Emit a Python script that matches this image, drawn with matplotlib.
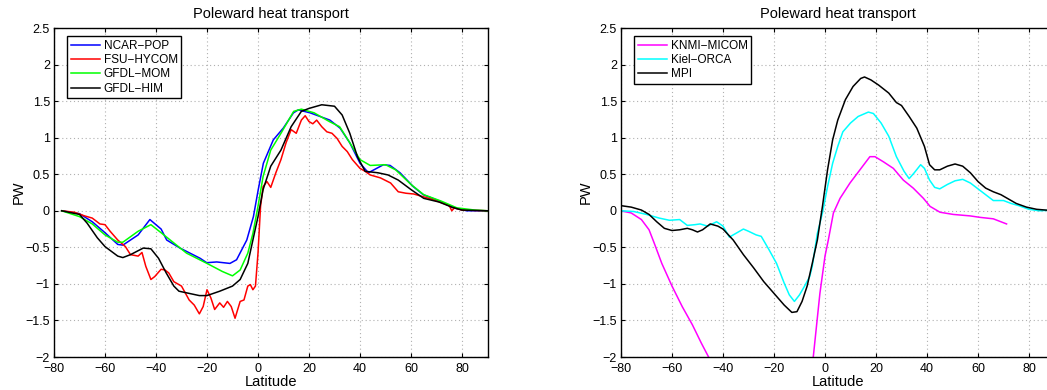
import numpy as np
import matplotlib
matplotlib.use("Agg")
import matplotlib.pyplot as plt

plt.rcParams['font.family'] = ['Liberation Sans', 'DejaVu Sans']
plt.rcParams['font.size'] = 8

# left panel data (latitude, PW)
pop_lat = [-77, -70, -65, -60, -55, -53, -47, -42.4, -38, -35.8, -30.6, -22.7, -20.1, -16.2, -11, -8.4, -4.4, -1.8,
           0.1, 2.1, 6, 9.9, 13.9, 15.8, 20.4, 28.2, 32.2, 36, 40, 43.3, 49.2, 51.8, 55.7, 60.9, 64.8, 71.4, 76.6,
           81.8, 90]
pop_pw = [0, -0.04, -0.15, -0.3, -0.46, -0.47, -0.33, -0.12, -0.25, -0.40, -0.51, -0.65, -0.71, -0.70, -0.72, -0.67,
          -0.40, -0.08, 0.29, 0.65, 0.97, 1.13, 1.34, 1.38, 1.34, 1.24, 1.13, 0.93, 0.65, 0.52, 0.63, 0.62, 0.52, 0.33,
          0.22, 0.13, 0.04, 0.0, 0.0]

hycom_lat = [-77, -72, -68, -65, -62, -60, -58, -55, -52, -50, -47, -45.5, -44, -42, -40.5, -38, -36.5, -35, -33,
             -30, -27, -25, -23, -21.5, -20, -18.5, -17, -15, -13.5, -12, -10.5, -9, -7, -5.5, -4, -3, -2, -1, 0,
             1, 2, 3.5, 5, 7, 9, 11, 13, 15, 17, 18.5, 20, 21.5, 23, 25, 27, 29, 31, 33, 35, 37, 40, 42, 44, 48, 52,
             55, 58, 61, 64, 68, 72, 75, 76, 77, 80, 90]
hycom_pw = [0, -0.02, -0.07, -0.10, -0.18, -0.19, -0.28, -0.40, -0.49, -0.60, -0.62, -0.57, -0.76, -0.94, -0.90,
            -0.80, -0.81, -0.85, -0.97, -1.03, -1.22, -1.29, -1.41, -1.31, -1.08, -1.19, -1.35, -1.26, -1.32, -1.24,
            -1.31, -1.47, -1.24, -1.22, -1.03, -1.01, -1.08, -1.03, -0.58, 0.06, 0.33, 0.40, 0.32, 0.52, 0.70, 0.93,
            1.11, 1.06, 1.24, 1.30, 1.22, 1.19, 1.24, 1.15, 1.08, 1.06, 0.99, 0.88, 0.81, 0.70, 0.58, 0.54, 0.49,
            0.45, 0.38, 0.26, 0.24, 0.23, 0.20, 0.16, 0.11, 0.07, 0.0, 0.04, 0.01, 0.0]

mom_lat = [-77, -70, -65, -60, -55, -53, -47, -42, -38, -33, -28, -20, -14, -10, -7, -4, -2, 0, 2, 5, 9, 14, 17,
           22, 28, 32, 36, 40, 44, 50, 54, 60, 65, 72, 78, 85, 90]
mom_pw = [0, -0.08, -0.18, -0.33, -0.43, -0.43, -0.28, -0.19, -0.30, -0.44, -0.58, -0.72, -0.83, -0.89, -0.81,
          -0.58, -0.31, 0.06, 0.47, 0.83, 1.06, 1.36, 1.39, 1.34, 1.22, 1.15, 0.93, 0.70, 0.62, 0.63, 0.56, 0.36,
          0.22, 0.13, 0.04, 0.01, 0.0]

him_lat = [-77, -70, -67, -63, -60, -55, -53, -50, -45, -42, -39, -36, -33, -31, -27, -23, -20, -15, -10, -7, -4,
           -2, 0, 2, 5, 9, 13, 17, 20, 25, 30, 33, 36, 39, 42, 47, 51, 55, 60, 65, 71, 76, 80, 90]
him_pw = [0, -0.05, -0.17, -0.37, -0.49, -0.62, -0.64, -0.60, -0.51, -0.52, -0.65, -0.85, -1.03, -1.10, -1.13,
          -1.16, -1.16, -1.10, -1.03, -0.94, -0.72, -0.40, -0.08, 0.29, 0.61, 0.83, 1.15, 1.36, 1.40, 1.45, 1.43,
          1.31, 1.06, 0.74, 0.54, 0.52, 0.49, 0.42, 0.29, 0.17, 0.12, 0.05, 0.01, 0.0]

# right panel data
micom_lat = [-80, -76, -72, -69, -67, -64, -60, -56, -52, -48.5, -45.5, -40, -30, -20, -12, -7, -4.6, -2, 0, 1.3,
             3.3, 5.9, 9.8, 13.7, 17.6, 19.6, 22.9, 26.8, 30.7, 34.6, 38.6, 41.2, 45.1, 50.3, 56.9, 60.8, 66, 71.2]
micom_pw = [0, -0.03, -0.12, -0.26, -0.44, -0.72, -1.03, -1.31, -1.56, -1.81, -2.01, -2.3, -2.8, -3.1, -3.0,
            -2.5, -2.0, -1.13, -0.62, -0.40, -0.03, 0.17, 0.38, 0.56, 0.74, 0.74, 0.67, 0.58, 0.42, 0.31, 0.17,
            0.06, -0.02, -0.05, -0.07, -0.09, -0.11, -0.18]

orca_lat = [-80, -75, -70, -65, -61, -57, -54, -51, -49, -46, -42.5, -40, -37.5, -35, -32, -30, -27, -25, -22, -19,
            -16, -14, -12, -10, -8, -6, -5, -3, -1, 1, 3, 5, 7, 10, 13, 17, 19, 22, 25, 28, 31, 33, 35, 37.5, 39,
            41, 43, 45, 48, 51, 54, 57, 60, 63, 66, 70, 73, 76, 80, 84, 90]
orca_pw = [0.0, -0.01, -0.05, -0.10, -0.13, -0.12, -0.20, -0.19, -0.18, -0.21, -0.15, -0.21, -0.36, -0.31, -0.25,
           -0.28, -0.33, -0.35, -0.53, -0.72, -0.99, -1.15, -1.24, -1.15, -1.03, -0.90, -0.76, -0.31, -0.03, 0.33,
           0.65, 0.88, 1.08, 1.20, 1.29, 1.35, 1.33, 1.20, 1.02, 0.74, 0.54, 0.44, 0.52, 0.63, 0.58, 0.42, 0.32,
           0.30, 0.36, 0.41, 0.43, 0.38, 0.30, 0.22, 0.14, 0.14, 0.10, 0.07, 0.02, 0.0, 0.01]

mpi_lat = [-80, -76, -72, -69, -66, -63, -60, -57, -54, -52, -50, -48, -45, -42, -40, -36, -32, -28, -24, -20, -16,
           -13, -11, -9, -7, -5, -3, -1, 1, 3, 5, 8, 11, 14, 15.5, 18, 21, 25, 28, 30, 33, 36, 39, 41, 43, 45, 48,
           51, 54, 57, 60, 63, 66, 69, 72, 75, 79, 83, 90]
mpi_pw = [0.07, 0.05, 0.01, -0.05, -0.15, -0.24, -0.27, -0.26, -0.24, -0.26, -0.29, -0.26, -0.18, -0.21, -0.25,
          -0.40, -0.60, -0.78, -0.97, -1.13, -1.29, -1.39, -1.38, -1.24, -1.03, -0.72, -0.40, 0.06, 0.56, 0.97,
          1.24, 1.52, 1.70, 1.81, 1.83, 1.79, 1.72, 1.61, 1.48, 1.44, 1.29, 1.13, 0.88, 0.63, 0.56, 0.56, 0.61,
          0.64, 0.61, 0.52, 0.40, 0.31, 0.26, 0.22, 0.16, 0.10, 0.05, 0.02, 0.0]

W, H = 1047, 390
fig = plt.figure(figsize=(W / 100, H / 100), dpi=100)
axL = fig.add_axes([54 / W, 33 / H, 433.5 / W, 329 / H])
axR = fig.add_axes([621 / W, 33 / H, 433.5 / W, 329 / H])

lw = 1.1
axL.plot(pop_lat, pop_pw, color='#0000ff', lw=lw, label='NCAR\u2212POP')
axL.plot(hycom_lat, hycom_pw, color='#ff0000', lw=lw, label='FSU\u2212HYCOM')
axL.plot(mom_lat, mom_pw, color='#00ff00', lw=lw, label='GFDL\u2212MOM')
axL.plot(him_lat, him_pw, color='black', lw=lw, label='GFDL\u2212HIM')

axR.plot(micom_lat, micom_pw, color='#ff00ff', lw=lw, label='KNMI\u2212MICOM')
axR.plot(orca_lat, orca_pw, color='#00ffff', lw=lw, label='Kiel\u2212ORCA')
axR.plot(mpi_lat, mpi_pw, color='black', lw=lw, label='MPI')

xt = np.arange(-80, 81, 20)
yt = np.arange(-2, 2.51, 0.5)
for ax in (axL, axR):
    ax.set_xlim(-80, 90)
    ax.set_ylim(-2, 2.5)
    ax.set_xticks(xt)
    ax.set_yticks(yt)
    ax.set_yticklabels([('%g' % v).replace('-', '\u2212') for v in yt])
    ax.set_xticklabels([('%g' % v).replace('-', '\u2212') for v in xt])
    ax.grid(True, linestyle=(0, (1, 2.5)), color='#b0b0b0', linewidth=0.8)
    ax.tick_params(direction='in', top=True, right=True, length=3, width=0.8, labelsize=9)
    ax.tick_params(axis='x', pad=4)
    ax.tick_params(axis='y', pad=3)
    for s in ax.spines.values():
        s.set_linewidth(1.0)
    ax.set_title('Poleward heat transport', fontsize=10.5, pad=7)
    ax.set_xlabel('Latitude', fontsize=10.5, labelpad=0.5)
    ax.set_ylabel('PW', fontsize=10.5, labelpad=0)
    leg = ax.legend(loc='upper left', bbox_to_anchor=(0.03, 0.975), fancybox=False, framealpha=1,
                    edgecolor='black', fontsize=8.5, handlelength=2.5, handletextpad=0.3,
                    labelspacing=0.2, borderpad=0.3, borderaxespad=0)
    leg.get_frame().set_linewidth(1.0)

fig.savefig('out.png', dpi=100)
